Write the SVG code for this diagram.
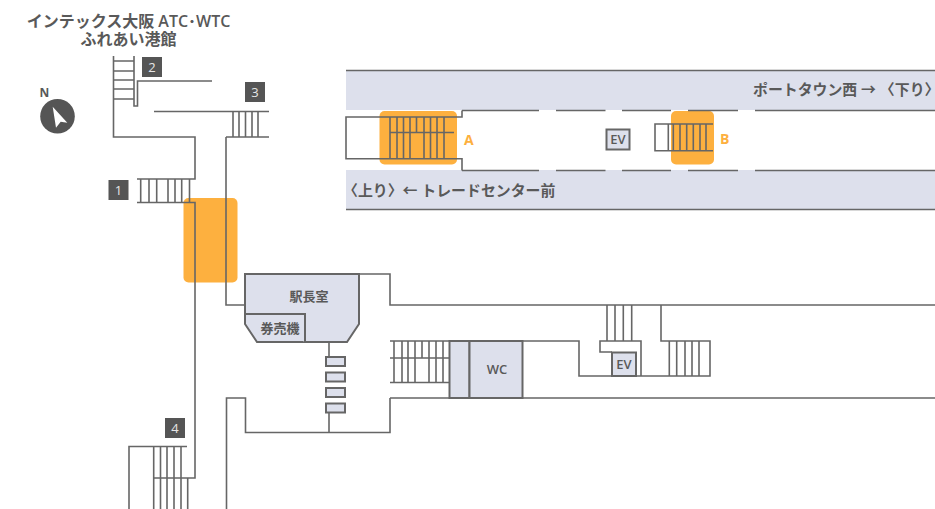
<svg xmlns="http://www.w3.org/2000/svg" width="935" height="509" viewBox="0 0 935 509">
<style>
.l{fill:none;stroke:#666;stroke-width:1.6}
.bt{fill:#dde0ec;stroke:#666;stroke-width:2}
.o{fill:#fdb03f}
.band{fill:#dde0ec}
text{font-family:"Open Sans","Noto Sans CJK JP",sans-serif;font-weight:600;fill:#595959;font-size:13px}
.c{text-anchor:middle}
.n{fill:#e6e6e6;font-weight:400;font-size:13px;text-anchor:middle}
.badge{fill:#555}
.oT{fill:#fdb03f;font-size:14px;font-weight:700}
.big{font-size:16px}
.dir{font-size:14.900px}
</style>
<rect width="935" height="509" fill="#fff"/>
<g id="platform">
<rect class="band" x="346" y="70" width="589" height="40"/>
<rect class="band" x="346" y="170" width="589" height="39.500"/>
</g>
<g id="exit-highlights">
<rect class="o" x="379.500" y="111" width="77.500" height="53.500" rx="5"/>
<rect class="o" x="671" y="111" width="43" height="53.500" rx="5"/>
<rect class="o" x="183.500" y="198" width="54" height="84.500" rx="5"/>
</g>
<g id="connectors">
<path class="l" d="M346 70.500H935M346 209.500H935"/>
<path class="l" d="M462 110.500H539M556 110.500H605.500M622 110.500H671M688 110.500H738M755 110.500H935M462 170.500H539M556 170.500H605.500M622 170.500H671M688 170.500H738M755 170.500H935"/>
<path class="l" d="M462 110.500V117H346V158.700H462V170.500"/>
<path class="l" d="M390 117V158.700M397 117V158.700M403.500 117V158.700M410 117V158.700M416.500 117V132.500M424 117V158.700M430.500 117V158.700M437 117V158.700M444 117V158.700M390 132.500H454"/>
<path class="l" d="M713 124H655V150.700H713M668.300 124V150.700M673.300 124V150.700M680 124V150.700M686.700 124V150.700M693.300 124V150.700M700 124V150.700M706 124V150.700"/>
<path class="l" d="M113.500 56V137H195V179H137M137 202.500H195V478H154M134 56V106H137.500V81H212M113.500 61H134M113.500 71H134M113.500 80H134M113.500 89H134M113.500 99H134"/>
<path class="l" d="M154 111.500H269M226 137H269M226 137V305H245M233 111.500V137M239 111.500V137M245.500 111.500V137M252 111.500V137M258 111.500V137"/>
<path class="l" d="M140.700 179V202.500M149 179V202.500M156.700 179V202.500M168 179V202.500M175 179V202.500M181.700 179V202.500M189.500 179V202.500"/>
<path class="l" d="M359 274H390V305H935"/>
<path class="l" d="M390 398V432.500H245.500V398H226.500V509M390 398H935"/>
<path class="l" d="M329 342V357M329 413V432.500"/>
<path class="l" d="M390 341H579V376H612M636 376H641V341H600V352H612M661 305V341H710V376H641"/>
<path class="l" d="M607 305V341M615 305V341M623.300 305V341M631.700 305V341M669.300 341V376M676.700 341V376M685 341V376M692 341V376M699 341V376"/>
<path class="l" d="M390 358H449M390 382.500H449M394 341V382.500M402 341V382.500M408 341V382.500M415 341V382.500M422 341V358M429 341V382.500M436 341V382.500M443 341V382.500"/>
<path class="l" d="M129 509V446.500H187M153.700 446.500V509M160.500 446.500V509M167 446.500V509M174 446.500V509M181 446.500V509M187.700 478V509"/>
</g>
<g id="station-office">
<path class="bt" d="M245 274H359V324L347 342H257L245 324Z"/>
<path class="bt" d="M245 314H305V342"/>
<text class="c" x="309" y="301">駅長室</text>
<text class="c" x="280" y="333">券売機</text>
</g>
<g id="gates">
<rect class="bt" x="326" y="357" width="19" height="9"/>
<rect class="bt" x="326" y="372.500" width="19" height="9"/>
<rect class="bt" x="326" y="388" width="19" height="9"/>
<rect class="bt" x="326" y="403.500" width="19" height="9"/>
</g>
<g id="wc">
<rect class="bt" x="449.500" y="341" width="20" height="57"/>
<rect class="bt" x="469.500" y="341" width="53" height="57"/>
<text class="c" x="497" y="373.500">WC</text>
</g>
<g id="ev-lower">
<rect class="bt" x="612" y="352.500" width="24" height="23.500"/>
<text class="c" x="624" y="369">EV</text>
</g>
<g id="ev-upper">
<rect class="bt" x="606.500" y="129.500" width="23" height="20"/>
<text class="c" x="618" y="144">EV</text>
</g>
<g id="title">
<text class="c big"><tspan x="128.500" y="27">インテックス大阪 ATC･WTC</tspan><tspan x="128.500" y="45">ふれあい港館</tspan></text>
</g>
<g id="compass">
<text class="c" x="44.500" y="97" style="font-size:12px;font-weight:700">N</text>
<circle cx="57.500" cy="116.300" r="17.300" fill="#555"/>
<path d="M52.700 106.700L67.300 122.700L60.700 121.700L56 127.700Z" fill="#fff"/>
</g>
<g id="exit-1"><rect class="badge" x="108.500" y="180" width="20" height="20"/><text class="n" x="118.500" y="194.500">1</text></g>
<g id="exit-2"><rect class="badge" x="142" y="57" width="20" height="20"/><text class="n" x="152" y="72">2</text></g>
<g id="exit-3"><rect class="badge" x="245" y="82" width="20" height="20"/><text class="n" x="255" y="97">3</text></g>
<g id="exit-4"><rect class="badge" x="165" y="418" width="20" height="20"/><text class="n" x="175" y="433">4</text></g>
<g id="label-a"><text class="oT" x="464" y="145">A</text></g>
<g id="label-b"><text class="oT" x="720" y="144">B</text></g>
<g id="direction-down"><text class="dir" x="753" y="95">ポートタウン西 → 〈下り〉</text></g>
<g id="direction-up"><text class="dir" x="343" y="195.500">〈上り〉← トレードセンター前</text></g>
</svg>
